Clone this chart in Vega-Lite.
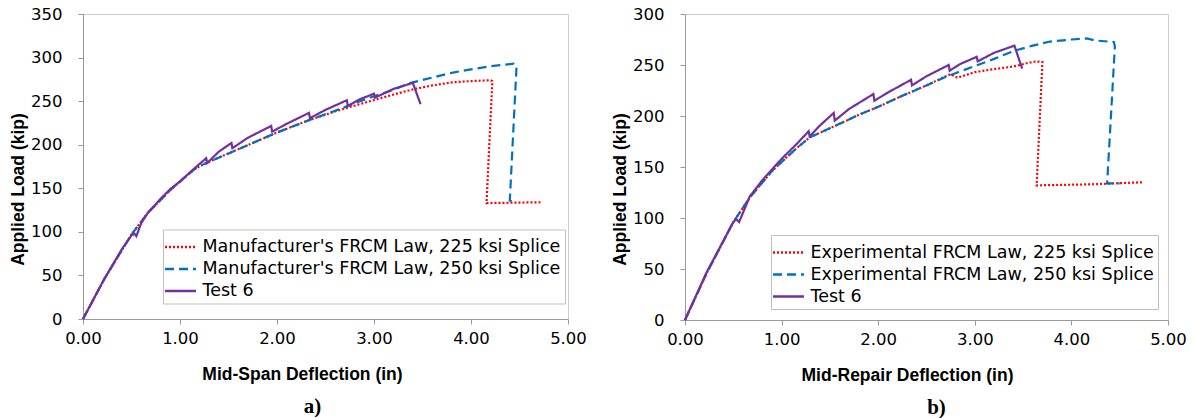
{
  "$schema": "https://vega.github.io/schema/vega-lite/v6.json",
  "padding": {"left": 9, "top": 5, "right": 5, "bottom": 0},
  "spacing": 24,
  "background": "white",
  "config": {
    "view": {"stroke": "#9a9a9a", "strokeDash": [1, 1], "strokeWidth": 1},
    "axis": {"grid": false, "domainColor": "#9a9a9a", "tickColor": "#9a9a9a", "tickSize": 5, "labelFont": "DejaVu Sans", "labelFontSize": 16.5, "labelColor": "#000", "labelFlush": false, "titleFont": "Liberation Sans", "titleFontSize": 17.5, "titleFontWeight": "bold", "titleColor": "#000"},
    "axisX": {"labelPadding": 6, "titlePadding": 19},
    "axisY": {"labelPadding": 16, "titlePadding": 3, "titleY": 175},
    "legend": {"orient": "none", "title": null, "symbolType": "M-1.29,0H1.29", "symbolSize": 576, "symbolStrokeWidth": 2.5, "labelFont": "DejaVu Sans", "labelFontSize": 17.5, "labelColor": "#000", "strokeColor": "#bfbfbf", "fillColor": "#ffffff", "padding": 4, "rowPadding": 0, "labelOffset": 8.5, "labelLimit": 600},
    "title": {"font": "Liberation Serif", "fontSize": 21, "fontWeight": "bold", "color": "#000", "orient": "bottom", "anchor": "middle", "offset": 13}
  },
  "datasets": {
    "a": [
      {"s": "Manufacturer's FRCM Law, 225 ksi Splice", "x": 0, "y": 0},
      {"s": "Manufacturer's FRCM Law, 225 ksi Splice", "x": 0.22, "y": 46},
      {"s": "Manufacturer's FRCM Law, 225 ksi Splice", "x": 0.5, "y": 97},
      {"s": "Manufacturer's FRCM Law, 225 ksi Splice", "x": 0.67, "y": 122},
      {"s": "Manufacturer's FRCM Law, 225 ksi Splice", "x": 0.9, "y": 148},
      {"s": "Manufacturer's FRCM Law, 225 ksi Splice", "x": 1.15, "y": 172},
      {"s": "Manufacturer's FRCM Law, 225 ksi Splice", "x": 1.25, "y": 178},
      {"s": "Manufacturer's FRCM Law, 225 ksi Splice", "x": 1.5, "y": 190},
      {"s": "Manufacturer's FRCM Law, 225 ksi Splice", "x": 1.75, "y": 202},
      {"s": "Manufacturer's FRCM Law, 225 ksi Splice", "x": 2.0, "y": 214},
      {"s": "Manufacturer's FRCM Law, 225 ksi Splice", "x": 2.35, "y": 229},
      {"s": "Manufacturer's FRCM Law, 225 ksi Splice", "x": 2.65, "y": 240},
      {"s": "Manufacturer's FRCM Law, 225 ksi Splice", "x": 2.93, "y": 249},
      {"s": "Manufacturer's FRCM Law, 225 ksi Splice", "x": 3.15, "y": 256},
      {"s": "Manufacturer's FRCM Law, 225 ksi Splice", "x": 3.38, "y": 263},
      {"s": "Manufacturer's FRCM Law, 225 ksi Splice", "x": 3.6, "y": 268},
      {"s": "Manufacturer's FRCM Law, 225 ksi Splice", "x": 3.8, "y": 271.5},
      {"s": "Manufacturer's FRCM Law, 225 ksi Splice", "x": 4.0, "y": 273},
      {"s": "Manufacturer's FRCM Law, 225 ksi Splice", "x": 4.2, "y": 274},
      {"s": "Manufacturer's FRCM Law, 225 ksi Splice", "x": 4.22, "y": 273},
      {"s": "Manufacturer's FRCM Law, 225 ksi Splice", "x": 4.16, "y": 133},
      {"s": "Manufacturer's FRCM Law, 225 ksi Splice", "x": 4.73, "y": 134},
      {"s": "Manufacturer's FRCM Law, 250 ksi Splice", "x": 0, "y": 0},
      {"s": "Manufacturer's FRCM Law, 250 ksi Splice", "x": 0.22, "y": 46},
      {"s": "Manufacturer's FRCM Law, 250 ksi Splice", "x": 0.5, "y": 97},
      {"s": "Manufacturer's FRCM Law, 250 ksi Splice", "x": 0.67, "y": 122},
      {"s": "Manufacturer's FRCM Law, 250 ksi Splice", "x": 0.9, "y": 148},
      {"s": "Manufacturer's FRCM Law, 250 ksi Splice", "x": 1.15, "y": 172},
      {"s": "Manufacturer's FRCM Law, 250 ksi Splice", "x": 1.25, "y": 178},
      {"s": "Manufacturer's FRCM Law, 250 ksi Splice", "x": 1.5, "y": 190},
      {"s": "Manufacturer's FRCM Law, 250 ksi Splice", "x": 1.75, "y": 202},
      {"s": "Manufacturer's FRCM Law, 250 ksi Splice", "x": 2.0, "y": 214},
      {"s": "Manufacturer's FRCM Law, 250 ksi Splice", "x": 2.35, "y": 229},
      {"s": "Manufacturer's FRCM Law, 250 ksi Splice", "x": 2.65, "y": 241},
      {"s": "Manufacturer's FRCM Law, 250 ksi Splice", "x": 2.93, "y": 253},
      {"s": "Manufacturer's FRCM Law, 250 ksi Splice", "x": 3.15, "y": 261},
      {"s": "Manufacturer's FRCM Law, 250 ksi Splice", "x": 3.38, "y": 271},
      {"s": "Manufacturer's FRCM Law, 250 ksi Splice", "x": 3.6, "y": 277},
      {"s": "Manufacturer's FRCM Law, 250 ksi Splice", "x": 3.8, "y": 282.5},
      {"s": "Manufacturer's FRCM Law, 250 ksi Splice", "x": 4.0, "y": 286.5},
      {"s": "Manufacturer's FRCM Law, 250 ksi Splice", "x": 4.2, "y": 290},
      {"s": "Manufacturer's FRCM Law, 250 ksi Splice", "x": 4.44, "y": 293},
      {"s": "Manufacturer's FRCM Law, 250 ksi Splice", "x": 4.47, "y": 291},
      {"s": "Manufacturer's FRCM Law, 250 ksi Splice", "x": 4.4, "y": 136},
      {"s": "Manufacturer's FRCM Law, 250 ksi Splice", "x": 4.45, "y": 133.5},
      {"s": "Test 6", "x": 0, "y": 0},
      {"s": "Test 6", "x": 0.22, "y": 46},
      {"s": "Test 6", "x": 0.4, "y": 80},
      {"s": "Test 6", "x": 0.5, "y": 96},
      {"s": "Test 6", "x": 0.53, "y": 98},
      {"s": "Test 6", "x": 0.55, "y": 95},
      {"s": "Test 6", "x": 0.6, "y": 110},
      {"s": "Test 6", "x": 0.67, "y": 122},
      {"s": "Test 6", "x": 0.8, "y": 138},
      {"s": "Test 6", "x": 0.9, "y": 149},
      {"s": "Test 6", "x": 1.0, "y": 158},
      {"s": "Test 6", "x": 1.15, "y": 173},
      {"s": "Test 6", "x": 1.27, "y": 184.5},
      {"s": "Test 6", "x": 1.28, "y": 179},
      {"s": "Test 6", "x": 1.4, "y": 192},
      {"s": "Test 6", "x": 1.53, "y": 202},
      {"s": "Test 6", "x": 1.54, "y": 196},
      {"s": "Test 6", "x": 1.7, "y": 208},
      {"s": "Test 6", "x": 1.94, "y": 221.5},
      {"s": "Test 6", "x": 1.95, "y": 215},
      {"s": "Test 6", "x": 2.1, "y": 224},
      {"s": "Test 6", "x": 2.33, "y": 236.5},
      {"s": "Test 6", "x": 2.34, "y": 230.5},
      {"s": "Test 6", "x": 2.5, "y": 240},
      {"s": "Test 6", "x": 2.72, "y": 251},
      {"s": "Test 6", "x": 2.73, "y": 244.5},
      {"s": "Test 6", "x": 2.85, "y": 252},
      {"s": "Test 6", "x": 3.0, "y": 258.5},
      {"s": "Test 6", "x": 3.01, "y": 254},
      {"s": "Test 6", "x": 3.2, "y": 264},
      {"s": "Test 6", "x": 3.4, "y": 271},
      {"s": "Test 6", "x": 3.48, "y": 246.5}
    ],
    "b": [
      {"s": "Experimental FRCM Law, 225 ksi Splice", "x": 0, "y": 0},
      {"s": "Experimental FRCM Law, 225 ksi Splice", "x": 0.22, "y": 45},
      {"s": "Experimental FRCM Law, 225 ksi Splice", "x": 0.5, "y": 96},
      {"s": "Experimental FRCM Law, 225 ksi Splice", "x": 0.67, "y": 120},
      {"s": "Experimental FRCM Law, 225 ksi Splice", "x": 0.9, "y": 146},
      {"s": "Experimental FRCM Law, 225 ksi Splice", "x": 1.0, "y": 155},
      {"s": "Experimental FRCM Law, 225 ksi Splice", "x": 1.15, "y": 168},
      {"s": "Experimental FRCM Law, 225 ksi Splice", "x": 1.29, "y": 179},
      {"s": "Experimental FRCM Law, 225 ksi Splice", "x": 1.5, "y": 188},
      {"s": "Experimental FRCM Law, 225 ksi Splice", "x": 1.82, "y": 202},
      {"s": "Experimental FRCM Law, 225 ksi Splice", "x": 2.0, "y": 209},
      {"s": "Experimental FRCM Law, 225 ksi Splice", "x": 2.23, "y": 219},
      {"s": "Experimental FRCM Law, 225 ksi Splice", "x": 2.5, "y": 230},
      {"s": "Experimental FRCM Law, 225 ksi Splice", "x": 2.7, "y": 239},
      {"s": "Experimental FRCM Law, 225 ksi Splice", "x": 2.75, "y": 241},
      {"s": "Experimental FRCM Law, 225 ksi Splice", "x": 2.82, "y": 237.5},
      {"s": "Experimental FRCM Law, 225 ksi Splice", "x": 3.0, "y": 243},
      {"s": "Experimental FRCM Law, 225 ksi Splice", "x": 3.2, "y": 246},
      {"s": "Experimental FRCM Law, 225 ksi Splice", "x": 3.4, "y": 248.5},
      {"s": "Experimental FRCM Law, 225 ksi Splice", "x": 3.55, "y": 252},
      {"s": "Experimental FRCM Law, 225 ksi Splice", "x": 3.63, "y": 253.5},
      {"s": "Experimental FRCM Law, 225 ksi Splice", "x": 3.7, "y": 253},
      {"s": "Experimental FRCM Law, 225 ksi Splice", "x": 3.64, "y": 132},
      {"s": "Experimental FRCM Law, 225 ksi Splice", "x": 4.2, "y": 133},
      {"s": "Experimental FRCM Law, 225 ksi Splice", "x": 4.73, "y": 135},
      {"s": "Experimental FRCM Law, 250 ksi Splice", "x": 0, "y": 0},
      {"s": "Experimental FRCM Law, 250 ksi Splice", "x": 0.22, "y": 45},
      {"s": "Experimental FRCM Law, 250 ksi Splice", "x": 0.5, "y": 96},
      {"s": "Experimental FRCM Law, 250 ksi Splice", "x": 0.67, "y": 120},
      {"s": "Experimental FRCM Law, 250 ksi Splice", "x": 0.9, "y": 146},
      {"s": "Experimental FRCM Law, 250 ksi Splice", "x": 1.0, "y": 155},
      {"s": "Experimental FRCM Law, 250 ksi Splice", "x": 1.15, "y": 168},
      {"s": "Experimental FRCM Law, 250 ksi Splice", "x": 1.29, "y": 179},
      {"s": "Experimental FRCM Law, 250 ksi Splice", "x": 1.5, "y": 188},
      {"s": "Experimental FRCM Law, 250 ksi Splice", "x": 1.82, "y": 202},
      {"s": "Experimental FRCM Law, 250 ksi Splice", "x": 2.0, "y": 209},
      {"s": "Experimental FRCM Law, 250 ksi Splice", "x": 2.23, "y": 219},
      {"s": "Experimental FRCM Law, 250 ksi Splice", "x": 2.5, "y": 230},
      {"s": "Experimental FRCM Law, 250 ksi Splice", "x": 2.7, "y": 238.5},
      {"s": "Experimental FRCM Law, 250 ksi Splice", "x": 2.8, "y": 242},
      {"s": "Experimental FRCM Law, 250 ksi Splice", "x": 3.03, "y": 250},
      {"s": "Experimental FRCM Law, 250 ksi Splice", "x": 3.2, "y": 256},
      {"s": "Experimental FRCM Law, 250 ksi Splice", "x": 3.41, "y": 264},
      {"s": "Experimental FRCM Law, 250 ksi Splice", "x": 3.6, "y": 269},
      {"s": "Experimental FRCM Law, 250 ksi Splice", "x": 3.78, "y": 273},
      {"s": "Experimental FRCM Law, 250 ksi Splice", "x": 4.0, "y": 275},
      {"s": "Experimental FRCM Law, 250 ksi Splice", "x": 4.16, "y": 276},
      {"s": "Experimental FRCM Law, 250 ksi Splice", "x": 4.25, "y": 274},
      {"s": "Experimental FRCM Law, 250 ksi Splice", "x": 4.44, "y": 272.5},
      {"s": "Experimental FRCM Law, 250 ksi Splice", "x": 4.45, "y": 268},
      {"s": "Experimental FRCM Law, 250 ksi Splice", "x": 4.37, "y": 134},
      {"s": "Experimental FRCM Law, 250 ksi Splice", "x": 4.5, "y": 134},
      {"s": "Test 6", "x": 0, "y": 0},
      {"s": "Test 6", "x": 0.22, "y": 46},
      {"s": "Test 6", "x": 0.5, "y": 96},
      {"s": "Test 6", "x": 0.53, "y": 99},
      {"s": "Test 6", "x": 0.56, "y": 96},
      {"s": "Test 6", "x": 0.67, "y": 121},
      {"s": "Test 6", "x": 0.8, "y": 137},
      {"s": "Test 6", "x": 1.0, "y": 158},
      {"s": "Test 6", "x": 1.15, "y": 172},
      {"s": "Test 6", "x": 1.28, "y": 185},
      {"s": "Test 6", "x": 1.29, "y": 180},
      {"s": "Test 6", "x": 1.4, "y": 191},
      {"s": "Test 6", "x": 1.54, "y": 203},
      {"s": "Test 6", "x": 1.55, "y": 195.5},
      {"s": "Test 6", "x": 1.7, "y": 207},
      {"s": "Test 6", "x": 1.95, "y": 221.5},
      {"s": "Test 6", "x": 1.96, "y": 215},
      {"s": "Test 6", "x": 2.1, "y": 223},
      {"s": "Test 6", "x": 2.34, "y": 235.5},
      {"s": "Test 6", "x": 2.35, "y": 230},
      {"s": "Test 6", "x": 2.5, "y": 239},
      {"s": "Test 6", "x": 2.73, "y": 250},
      {"s": "Test 6", "x": 2.74, "y": 244.5},
      {"s": "Test 6", "x": 2.85, "y": 251},
      {"s": "Test 6", "x": 3.02, "y": 258},
      {"s": "Test 6", "x": 3.03, "y": 253.5},
      {"s": "Test 6", "x": 3.2, "y": 262},
      {"s": "Test 6", "x": 3.41, "y": 269},
      {"s": "Test 6", "x": 3.49, "y": 246.5}
    ]
  },
  "hconcat": [
    {
      "width": 485,
      "height": 305,
      "data": {"name": "a"},
      "title": {"text": "a)", "dx": -13},
      "mark": {"type": "line", "strokeWidth": 2.2},
      "encoding": {
        "x": {"field": "x", "type": "quantitative", "scale": {"domain": [0, 5], "nice": false}, "axis": {"values": [0, 1, 2, 3, 4, 5], "format": ".2f", "title": "Mid-Span Deflection (in)", "titleX": 219}},
        "y": {"field": "y", "type": "quantitative", "scale": {"domain": [0, 350], "nice": false}, "axis": {"values": [0, 50, 100, 150, 200, 250, 300, 350], "title": "Applied Load  (kip)"}},
        "color": {"field": "s", "type": "nominal", "scale": {"domain": ["Manufacturer's FRCM Law, 225 ksi Splice", "Manufacturer's FRCM Law, 250 ksi Splice", "Test 6"], "range": ["#FF0000", "#0070C0", "#7030A0"]}, "legend": {"legendX": 80, "legendY": 215.5}},
        "strokeDash": {"field": "s", "type": "nominal", "scale": {"domain": ["Manufacturer's FRCM Law, 225 ksi Splice", "Manufacturer's FRCM Law, 250 ksi Splice", "Test 6"], "range": [[2, 2], [9, 5], [1, 0]]}, "legend": {"legendX": 80, "legendY": 215.5}},
        "order": {"value": null}
      }
    },
    {
      "width": 483,
      "height": 306,
      "data": {"name": "b"},
      "title": {"text": "b)", "dx": 10},
      "mark": {"type": "line", "strokeWidth": 2.2},
      "encoding": {
        "x": {"field": "x", "type": "quantitative", "scale": {"domain": [0, 5], "nice": false}, "axis": {"values": [0, 1, 2, 3, 4, 5], "format": ".2f", "title": "Mid-Repair Deflection (in)", "titleX": 222}},
        "y": {"field": "y", "type": "quantitative", "scale": {"domain": [0, 300], "nice": false}, "axis": {"values": [0, 50, 100, 150, 200, 250, 300], "title": "Applied Load  (kip)"}},
        "color": {"field": "s", "type": "nominal", "scale": {"domain": ["Experimental FRCM Law, 225 ksi Splice", "Experimental FRCM Law, 250 ksi Splice", "Test 6"], "range": ["#FF0000", "#0070C0", "#7030A0"]}, "legend": {"legendX": 86, "legendY": 221}},
        "strokeDash": {"field": "s", "type": "nominal", "scale": {"domain": ["Experimental FRCM Law, 225 ksi Splice", "Experimental FRCM Law, 250 ksi Splice", "Test 6"], "range": [[2, 2], [9, 5], [1, 0]]}, "legend": {"legendX": 86, "legendY": 221}},
        "order": {"value": null}
      }
    }
  ],
  "resolve": {"scale": {"color": "independent", "strokeDash": "independent", "x": "independent", "y": "independent"}, "legend": {"color": "independent", "strokeDash": "independent"}}
}
